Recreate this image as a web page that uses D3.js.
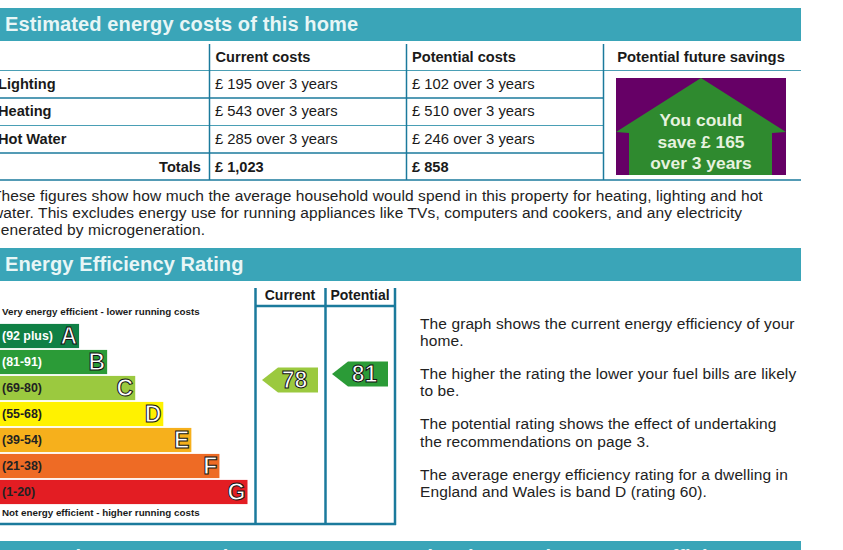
<!DOCTYPE html>
<html>
<head>
<meta charset="utf-8">
<script src="https://cdn.jsdelivr.net/npm/d3@7"></script>
<style>
html, body { margin: 0; padding: 0; background: #fff; }
svg { display: block; font-family: "Liberation Sans", Arial, sans-serif; }
</style>
</head>
<body>
<svg id="chart" width="843" height="550"></svg>
<script>
// cost table
var costRows = ["Lighting", "Heating", "Hot Water"];
var currentCosts = [195, 543, 285];
var potentialCosts = [102, 510, 246];
var currentTotal = "£ 1,023";
var potentialTotal = "£ 858";
var savingLines = ["You could", "save £ 165", "over 3 years"];

// rating bands, best first
var bandLetters = ["A", "B", "C", "D", "E", "F", "G"];
var bandRanges = ["(92 plus)", "(81-91)", "(69-80)", "(55-68)", "(39-54)", "(21-38)", "(1-20)"];
var bandLengths = [1, 2, 3, 4, 5, 6, 7];
var bandColors = ["#0f8045", "#2b9b37", "#9bc93f", "#fff200", "#f6b01c", "#ee6b25", "#e31d23"];
var bandTextColors = ["#fff", "#fff", "#222", "#222", "#222", "#222", "#222"];

// the two ratings
var ratingNames = ["Current", "Potential"];
var ratingValues = [78, 81];
var ratingColors = ["#9bc93f", "#2b9b37"];

var introLines = [
    "These figures show how much the average household would spend in this property for heating, lighting and hot",
    "water. This excludes energy use for running appliances like TVs, computers and cookers, and any electricity",
    "generated by microgeneration."
];
var noteLines = [
    "The graph shows the current energy efficiency of your",
    "home.",
    "The higher the rating the lower your fuel bills are likely",
    "to be.",
    "The potential rating shows the effect of undertaking",
    "the recommendations on page 3.",
    "The average energy efficiency rating for a dwelling in",
    "England and Wales is band D (rating 60)."
];
var noteBaselines = [329, 346, 379, 396, 429, 447, 480, 497];

var teal = "#3aa5b8";
var lineBlue = "#1b7a9c";
var svg = d3.select("#chart");

function hline(x1, x2, y, w, col) {
    svg.append("line").attr("x1", x1).attr("x2", x2).attr("y1", y).attr("y2", y)
        .attr("stroke", col || lineBlue).attr("stroke-width", w);
}
function vline(x, y1, y2, w) {
    svg.append("line").attr("x1", x).attr("x2", x).attr("y1", y1).attr("y2", y2)
        .attr("stroke", lineBlue).attr("stroke-width", w);
}
function label(x, y, txt, size, weight, col, anchor) {
    return svg.append("text").attr("x", x).attr("y", y).text(txt)
        .attr("font-size", size).attr("font-weight", weight || "normal")
        .attr("fill", col || "#1a1a1a").attr("text-anchor", anchor || "start");
}

// section headers
function header(y, h, txt, base) {
    svg.append("rect").attr("x", 0).attr("y", y).attr("width", 801).attr("height", h).attr("fill", teal);
    label(5, y + base, txt, 20, "bold", "#e8f6f6").attr("letter-spacing", 0.12);
}
header(8, 33, "Estimated energy costs of this home", 23);
header(248, 33, "Energy Efficiency Rating", 23);
// only the tops of this heading are in the picture
header(541, 9, "Top actions you can take to save money and make your home more efficient", 23);

// cost table
var colX = [209.5, 406.5, 603.5];
var rowY = d3.scaleBand().domain(costRows.concat("Totals")).range([70.5, 179.5]);

hline(0, 801, 70.5, 1.2, "#4a9fb5");
hline(0, 603, 98, 1.5);
hline(0, 603, 125.5, 1.2, "#4a9fb5");
hline(0, 603, 153, 1.5);
hline(0, 801, 180, 1.5);
colX.forEach(function(x) { vline(x, 44, 180, 1.5); });

label(215.5, 62, "Current costs", 14.6, "bold");
label(412, 62, "Potential costs", 14.6, "bold");
label(701, 62, "Potential future savings", 14.8, "bold", null, "middle");

costRows.forEach(function(name, i) {
    var y = rowY(name) + rowY.bandwidth() / 2 + 5;
    label(-2, y, name, 14.6, "bold");
    label(215, y, "£ " + currentCosts[i] + " over 3 years", 14.8);
    label(412, y, "£ " + potentialCosts[i] + " over 3 years", 14.8);
});
label(201, 171.5, "Totals", 14.6, "bold", null, "end");
label(215, 171.5, currentTotal, 14.6, "bold");
label(412, 171.5, potentialTotal, 14.6, "bold");

// savings house
svg.append("rect").attr("x", 616).attr("y", 78).attr("width", 170).attr("height", 97).attr("fill", "#660066");
var housePath = d3.path();
housePath.moveTo(701, 78);
housePath.lineTo(786, 132);
housePath.lineTo(772, 133);
housePath.lineTo(772, 175);
housePath.lineTo(629, 175);
housePath.lineTo(629, 133);
housePath.lineTo(616, 132);
housePath.closePath();
svg.append("path").attr("d", housePath.toString()).attr("fill", "#2f8a2f");
savingLines.forEach(function(t, i) {
    label(701, 126 + i * 21.5, t, 17.4, "bold", "#e6f2df", "middle");
});

// intro paragraph
introLines.forEach(function(t, i) {
    label(-8, 201 + i * 17, t, 15.5, "normal", "#222").attr("letter-spacing", 0.1);
});

// rating chart
var bandY = d3.scaleBand().domain(bandLetters).range([323, 505]).paddingInner(0.07).paddingOuter(0.035);
var bandX = d3.scaleLinear().domain([0, 7]).range([51, 247.5]);

label(2, 315, "Very energy efficient - lower running costs", 9.8, "bold");
label(2, 516, "Not energy efficient - higher running costs", 9.8, "bold");

var bands = svg.selectAll(".band").data(bandLetters).join("g").attr("class", "band");
bands.append("rect")
    .attr("x", 0)
    .attr("y", function(d) { return bandY(d); })
    .attr("width", function(d, i) { return bandX(bandLengths[i]); })
    .attr("height", bandY.bandwidth())
    .attr("fill", function(d, i) { return bandColors[i]; });
bands.append("text")
    .attr("x", 2)
    .attr("y", function(d) { return bandY(d) + bandY.bandwidth() / 2 + 4; })
    .attr("font-size", 12.4).attr("font-weight", "bold")
    .attr("fill", function(d, i) { return bandTextColors[i]; })
    .text(function(d, i) { return bandRanges[i]; });
bands.append("text")
    .attr("x", function(d, i) { return bandX(bandLengths[i]) - 2; })
    .attr("y", function(d) { return bandY(d) + bandY.bandwidth() / 2 + 8; })
    .attr("text-anchor", "end")
    .attr("font-size", 23).attr("font-weight", "bold")
    .attr("fill", "#fff").attr("stroke", "#111").attr("stroke-width", 1)
    .text(function(d) { return d; });

// frame of the rating columns
hline(0, 396, 524, 2.5);
vline(255.5, 288, 525, 2.5);
vline(325.5, 288, 525, 2.5);
vline(395, 288, 525, 2.5);
hline(255, 396, 306, 2.5);
label(290, 300, "Current", 14, "bold", null, "middle");
label(360, 300, "Potential", 14, "bold", null, "middle");

// rating arrows, positioned by rating
var ratingY = d3.scaleLinear().domain([1, 100]).range([534, 336]);
var arrowX = d3.scaleBand().domain(ratingNames).range([255, 395]);
var arrowLine = d3.line();
var arrows = svg.selectAll(".arrow").data(ratingNames).join("g").attr("class", "arrow")
    .attr("transform", function(d, i) {
        return "translate(" + (arrowX(d) + 7) + "," + ratingY(ratingValues[i]) + ")";
    });
arrows.append("path")
    .attr("d", arrowLine([[0, 0], [16, -12.5], [56, -12.5], [56, 12.5], [16, 12.5]]))
    .attr("fill", function(d, i) { return ratingColors[i]; });
arrows.append("text")
    .attr("x", 32.5).attr("y", 8).attr("text-anchor", "middle")
    .attr("font-size", 23).attr("font-weight", "bold")
    .attr("fill", "#fff").attr("stroke", "#111").attr("stroke-width", 1)
    .text(function(d, i) { return ratingValues[i]; });

// notes on the right
noteLines.forEach(function(t, i) {
    label(420, noteBaselines[i], t, 15.5, "normal", "#222").attr("letter-spacing", 0.1);
});
</script>
</body>
</html>
